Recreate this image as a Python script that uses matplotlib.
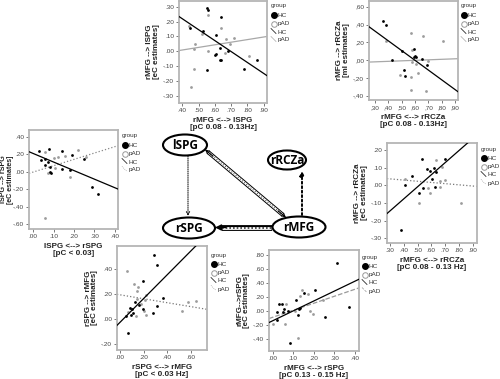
import numpy as np
import matplotlib
matplotlib.use("Agg")
import matplotlib.pyplot as plt
from matplotlib.patches import Ellipse

plt.rcParams["font.family"] = ["Liberation Sans", "DejaVu Sans"]

# ---------------- data ----------------
# Plot A: rMFG <--> lSPG (x) vs rMFG --> lSPG (y)
a_hc_x = [0.55, 0.56, 0.64, 0.45, 0.53, 0.61, 0.61, 0.60, 0.63, 0.63, 0.64, 0.55, 0.68, 0.78, 0.86]
a_hc_y = [0.29, 0.28, 0.23, 0.155, 0.135, 0.11, -0.02, -0.025, 0.02, -0.06, -0.06, -0.13, 0.005, -0.12, -0.06]
a_ad_x = [0.44, 0.56, 0.635, 0.52, 0.48, 0.47, 0.56, 0.67, 0.72, 0.69, 0.665, 0.47, 0.455, 0.81]
a_ad_y = [0.17, 0.245, 0.16, 0.115, 0.05, 0.015, 0.00, 0.085, 0.09, 0.05, -0.015, -0.12, -0.245, -0.035]
a_hc_fit = [(0.38, 0.235), (0.92, -0.165)]
a_ad_fit = [(0.38, 0.005), (0.92, 0.10)]

# Plot B: rMFG <--> rRCZa vs rMFG --> rRCZa [mI]
b_hc_x = [0.357, 0.383, 0.43, 0.50, 0.595, 0.59, 0.60, 0.605, 0.52, 0.525, 0.69, 0.65]
b_hc_y = [0.443, 0.39, 0.00, 0.10, 0.12, 0.04, 0.05, 0.03, -0.11, -0.175, -0.055, 0.01]
b_ad_x = [0.57, 0.66, 0.38, 0.81, 0.49, 0.57, 0.62, 0.57, 0.68, 0.70, 0.58, 0.61, 0.575]
b_ad_y = [0.31, 0.27, 0.215, 0.215, -0.17, -0.19, -0.14, -0.34, -0.345, -0.005, -0.02, -0.045, 0.11]
b_hc_fit = [(0.255, 0.375), (0.922, -0.355)]
b_ad_fit = [(0.255, -0.022), (0.922, 0.016)]

# Plot C: lSPG <--> rSPG vs lSPG --> rSPG
c_hc_x = [0.03, 0.076, 0.143, 0.19, 0.036, 0.06, 0.057, 0.08, 0.08, 0.085, 0.143, 0.18, 0.25, 0.29, 0.32, 0.073]
c_hc_y = [0.235, 0.255, 0.235, 0.19, 0.13, 0.15, 0.076, 0.057, 0.0, -0.02, 0.03, 0.02, 0.14, -0.18, -0.25, 0.114]
c_ad_x = [0.057, 0.10, 0.12, 0.155, 0.22, 0.257, 0.105, 0.073, 0.18, 0.06]
c_ad_y = [0.22, 0.16, 0.17, 0.18, 0.247, 0.17, 0.038, -0.02, -0.065, -0.53]
c_hc_fit = [(-0.021, 0.228), (0.416, -0.198)]
c_ad_fit = [(-0.021, -0.019), (0.416, 0.297)]

# Plot D: rMFG <--> rRCZa vs rMFG --> rRCZa [eC]
d_hc_x = [0.533, 0.70, 0.456, 0.41, 0.57, 0.59, 0.616, 0.63, 0.605, 0.54, 0.51, 0.625, 0.38]
d_hc_y = [0.147, 0.147, 0.051, 0.0, 0.09, 0.08, 0.10, 0.075, 0.034, -0.015, -0.043, -0.01, -0.255]
d_ad_x = [0.63, 0.68, 0.41, 0.575, 0.59, 0.66, 0.70, 0.665, 0.51, 0.815]
d_ad_y = [0.145, 0.104, 0.038, -0.015, -0.043, 0.023, 0.028, -0.011, -0.098, -0.098]
d_hc_fit = [(0.278, -0.16), (0.87, 0.245)]
d_ad_fit = [(0.278, 0.038), (0.931, -0.006)]

# Plot E: rSPG <--> rMFG vs rSPG --> rMFG
e_hc_x = [0.289, 0.311, 0.192, 0.362, 0.127, 0.164, 0.085, 0.099, 0.107, 0.09, 0.051, 0.198, 0.311, 0.283, 0.065]
e_hc_y = [0.512, 0.437, 0.304, 0.171, 0.139, 0.117, 0.093, 0.08, 0.053, 0.032, 0.027, 0.085, 0.107, 0.048, -0.107]
e_ad_x = [0.062, 0.119, 0.156, 0.147, 0.22, 0.212, 0.147, 0.58, 0.64, 0.526, 0.204, 0.22, 0.136, 0.07, 0.175]
e_ad_y = [0.384, 0.28, 0.261, 0.229, 0.197, 0.155, 0.16, 0.139, 0.144, 0.069, 0.064, 0.032, 0.027, 0.059, 0.123]
e_hc_fit = [(-0.025, -0.048), (0.642, 0.586)]
e_ad_fit = [(-0.025, 0.2), (0.737, 0.08)]

# Plot F: rMFG <--> rSPG vs rMFG --> rSPG
f_hc_x = [0.311, 0.206, 0.154, 0.113, 0.032, 0.044, 0.133, 0.13, 0.049, 0.076, 0.057, 0.023, 0.125, 0.254, 0.372, 0.084, 0.023]
f_hc_y = [0.687, 0.308, 0.26, 0.156, 0.109, 0.109, 0.052, 0.033, -0.014, 0.0, 0.038, -0.118, -0.057, -0.08, 0.062, -0.45, -0.01]
f_ad_x = [0.141, 0.133, 0.173, 0.065, 0.108, 0.181, 0.194, 0.0, 0.062, 0.121, 0.243]
f_ad_y = [0.30, 0.213, 0.25, 0.109, 0.005, 0.0, -0.043, -0.175, -0.175, -0.379, 0.156]
f_hc_fit = [(-0.018, -0.161), (0.419, 0.455)]
f_ad_fit = [(-0.018, -0.104), (0.419, 0.332)]

# ---------------- figure ----------------
W, H = 500, 379
fig = plt.figure(figsize=(5.0, 3.79), dpi=100)
ov = fig.add_axes([0, 0, 1, 1])
ov.set_xlim(0, W)
ov.set_ylim(H, 0)
ov.axis("off")

GRAY_PT = "#9c9c9c"
GRAY_LN = "#a8a8a8"
TXT = "#333333"


def fmt(v, comma=False):
    s = f"{v:.2f}"
    s = s.replace("0.", ".", 1)
    if comma:
        s = s.replace(".", ",")
    return s


def make_ax(box, xlim, ylim, xticks, yticks, xlabel, ylabel,
            hc, ad, hc_fit, ad_fit, ad_style, ad_color, comma=False,
            ylab_x=None, ylab_fs=5.8):
    l, t, r, b = box
    ax = fig.add_axes([l / W, (H - b) / H, (r - l) / W, (b - t) / H])
    ax.set_xlim(*xlim)
    ax.set_ylim(*ylim)
    ax.set_xticks(xticks)
    ax.set_yticks(yticks)
    ax.set_xticklabels([fmt(v, comma) for v in xticks])
    ax.set_yticklabels([fmt(v, comma) for v in yticks])
    ax.tick_params(direction="out", length=2, width=0.5, labelsize=4.6,
                   pad=1.5, colors="#444444")
    for sp in ax.spines.values():
        sp.set_color("#b5b5b5")
        sp.set_linewidth(1.3)
    ax.scatter(ad[0], ad[1], s=4, color=GRAY_PT, zorder=3, linewidths=0)
    ax.scatter(hc[0], hc[1], s=4, color="black", zorder=4, linewidths=0)
    ax.plot([p[0] for p in ad_fit], [p[1] for p in ad_fit], color=ad_color,
            lw=0.9, ls=ad_style, zorder=2)
    ax.plot([p[0] for p in hc_fit], [p[1] for p in hc_fit], color="black",
            lw=0.9, zorder=5)
    ax.set_xlabel(xlabel, fontsize=5.8, fontweight="bold", labelpad=3,
                  linespacing=1.05, color="#222222")
    ax.set_ylabel(ylabel, fontsize=ylab_fs, fontweight="bold", labelpad=2,
                  linespacing=0.95, color="#222222")
    if ylab_x is not None:
        ax.yaxis.set_label_coords(ylab_x, 0.5)
    return ax


def legend(x, y, ad_style, ad_color):
    fs = 4.6
    ov.text(x, y, "group", fontsize=fs, color=TXT, va="center")
    ov.plot([x + 3], [y + 9], "o", ms=4.0, color="black")
    ov.text(x + 6.5, y + 9.3, "HC", fontsize=fs, color=TXT, va="center")
    ov.plot([x + 3], [y + 17.5], "o", ms=4.0, mfc="white", mec="#999999", mew=0.7)
    ov.text(x + 6.5, y + 17.8, "pAD", fontsize=fs, color=TXT, va="center")
    ov.plot([x, x + 5], [y + 22.5, y + 27.5], color="black", lw=0.5)
    ov.text(x + 6.5, y + 26, "HC", fontsize=fs, color=TXT, va="center")
    ov.plot([x, x + 5], [y + 30.5, y + 35.5], color=ad_color, lw=0.5, ls=ad_style)
    ov.text(x + 6.5, y + 34, "pAD", fontsize=fs, color=TXT, va="center")


make_ax((179, 1, 267, 103), (0.38, 0.92), (-0.35, 0.34),
        [0.4, 0.5, 0.6, 0.7, 0.8, 0.9], [-0.3, -0.2, -0.1, 0.0, 0.1, 0.2, 0.3],
        "rMFG <--> lSPG\n[pC 0.08 - 0.13Hz]", "rMFG --> lSPG\n[eC estimates]",
        (a_hc_x, a_hc_y), (a_ad_x, a_ad_y), a_hc_fit, a_ad_fit, "-", GRAY_LN)
legend(271, 6, "-", GRAY_LN)

make_ax((369, 1, 458, 100), (0.255, 0.922), (-0.448, 0.664),
        [0.3, 0.4, 0.5, 0.6, 0.7, 0.8, 0.9], [-0.4, -0.2, 0.0, 0.2, 0.4, 0.6],
        "rMFG <--> rRCZa\n[pC 0.08 - 0.13Hz]", "rMFG --> rRCZa\n[mI estimates]",
        (b_hc_x, b_hc_y), (b_ad_x, b_ad_y), b_hc_fit, b_ad_fit, "-", GRAY_LN,
        comma=True)
legend(461, 6, "-", GRAY_LN)

make_ax((29, 130, 118, 229), (-0.021, 0.416), (-0.654, 0.476),
        [0.0, 0.1, 0.2, 0.3, 0.4], [-0.6, -0.4, -0.2, 0.0, 0.2, 0.4],
        "lSPG <--> rSPG\n[pC < 0.03]", "lSPG --> rSPG\n[eC estimates]",
        (c_hc_x, c_hc_y), (c_ad_x, c_ad_y), c_hc_fit, c_ad_fit, ":", "#888888",
        ylab_x=-0.17, ylab_fs=5.1)
legend(122, 136, ":", "#888888")

make_ax((387, 143, 477, 243), (0.278, 0.931), (-0.327, 0.24),
        [0.3, 0.4, 0.5, 0.6, 0.7, 0.8, 0.9], [-0.3, -0.2, -0.1, 0.0, 0.1, 0.2],
        "rMFG <--> rRCZa\n[pC 0.08 - 0.13 Hz]", "rMFG --> rRCZa\n[eC estimates]",
        (d_hc_x, d_hc_y), (d_ad_x, d_ad_y), d_hc_fit, d_ad_fit, ":", "#777777")
legend(481, 149, ":", "#888888")

make_ax((117, 246, 207, 350), (-0.025, 0.737), (-0.245, 0.586),
        [0.0, 0.2, 0.4, 0.6], [-0.2, 0.0, 0.2, 0.4],
        "rSPG <--> rMFG\n[pC < 0.03 Hz]", "rSPG --> rMFG\n[eC estimates]",
        (e_hc_x, e_hc_y), (e_ad_x, e_ad_y), e_hc_fit, e_ad_fit, ":", "#777777")
legend(211, 255, ":", "#888888")

make_ax((269, 250, 359, 351), (-0.018, 0.419), (-0.566, 0.871),
        [0.0, 0.1, 0.2, 0.3, 0.4], [-0.4, -0.2, 0.0, 0.2, 0.4, 0.6, 0.8],
        "rMFG <--> rSPG\n[pC 0.13 - 0.15 Hz]", "rMFG-->rSPG\n[eC estimates]",
        (f_hc_x, f_hc_y), (f_ad_x, f_ad_y), f_hc_fit, f_ad_fit, "--", "#999999")
legend(362, 257, "--", "#999999")

# ---------------- network diagram ----------------
nodes = {"lSPG": (185, 145, 44, 21), "rRCZa": (287, 160, 38, 19),
         "rSPG": (189, 228, 52, 21), "rMFG": (299, 227, 53, 21)}
for name, (cx, cy, w, h) in nodes.items():
    ov.add_patch(Ellipse((cx, cy), w, h, facecolor="white", edgecolor="black",
                         lw=1.5, zorder=3))
    ov.text(cx, cy + 0.5, name, fontsize=8.5, fontweight="bold", ha="center",
            va="center", zorder=4, family=["Open Sans", "DejaVu Sans"])

# lSPG -> rSPG (dotted thin)
ov.annotate("", xy=(188, 216), xytext=(188, 156),
            arrowprops=dict(arrowstyle="->", lw=0.7, ls=(0, (1, 1.2)),
                            color="black", shrinkA=0, shrinkB=0,
                            mutation_scale=6), zorder=2)
# rMFG -> rRCZa (dotted thicker)
ov.annotate("", xy=(302, 171), xytext=(302, 215),
            arrowprops=dict(arrowstyle="-|>", lw=1.4, ls=(0, (1, 1.3)),
                            color="black", shrinkA=0, shrinkB=0,
                            mutation_scale=6), zorder=2)
# lSPG <-> rMFG (double line)
x0, y0, x1, y1 = 208, 152, 283, 215
ov.plot([x0, x1], [y0, y1], color="black", lw=3.0, solid_capstyle="butt", zorder=2)
ov.plot([x0, x1], [y0, y1], color="white", lw=1.6, solid_capstyle="butt", zorder=2)
ov.plot([x0, x1], [y0, y1], color="#555555", lw=0.8, ls=(0, (1, 1.5)), zorder=2)
ov.annotate("", xy=(x1 + 3, y1 + 2.5), xytext=(x1 - 5, y1 - 4.2),
            arrowprops=dict(arrowstyle="->", lw=0.8, color="black",
                            shrinkA=0, shrinkB=0, mutation_scale=6), zorder=2)
ov.annotate("", xy=(x0 - 3, y0 - 2.5), xytext=(x0 + 5, y0 + 4.2),
            arrowprops=dict(arrowstyle="->", lw=0.8, color="black",
                            shrinkA=0, shrinkB=0, mutation_scale=6), zorder=2)
# rMFG -> rSPG (thick double)
ov.plot([222, 272], [227.5, 227.5], color="black", lw=4.2, solid_capstyle="butt", zorder=2)
ov.plot([222, 271], [227.5, 227.5], color="white", lw=2.0, solid_capstyle="butt", zorder=2)
ov.plot([222, 271], [227.5, 227.5], color="#333333", lw=1.2, ls=(0, (1, 1.2)), zorder=2)
ov.annotate("", xy=(215, 227.5), xytext=(226, 227.5),
            arrowprops=dict(arrowstyle="-|>", lw=1.0, color="black",
                            shrinkA=0, shrinkB=0, mutation_scale=9), zorder=2)

fig.savefig("out.png", dpi=100)
